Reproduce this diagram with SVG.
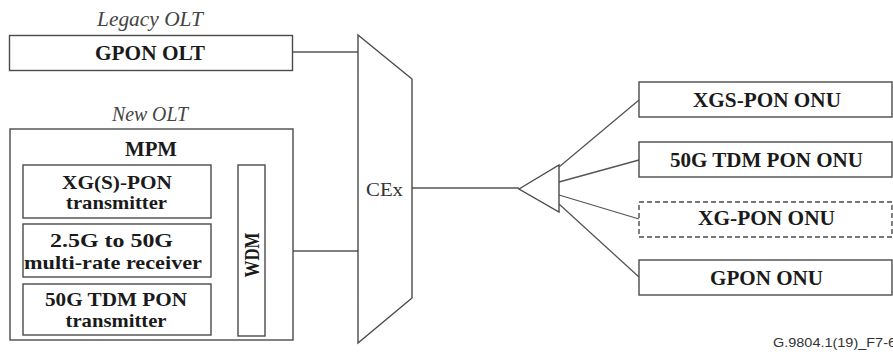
<svg xmlns="http://www.w3.org/2000/svg" width="893" height="352" viewBox="0 0 893 352">
  <style>
    .box { fill: #fff; stroke: #4a4a4a; stroke-width: 1.4; }
    .dash { stroke-dasharray: 5 3; }
    .wire { fill: none; stroke: #555; stroke-width: 1.3; }
    .lbl { font-family: "Liberation Serif", "Times New Roman", serif; font-weight: bold; font-size: 20.5px; fill: #1a1a1a; text-anchor: middle; }
    .sm { font-size: 19.5px; }
    .cap { font-family: "Liberation Serif", "Times New Roman", serif; font-style: italic; font-size: 20px; fill: #444; text-anchor: middle; }
    .reg { font-family: "Liberation Serif", "Times New Roman", serif; font-size: 19px; fill: #333; text-anchor: middle; }
    .ref { font-family: "Liberation Sans", Arial, sans-serif; font-size: 12px; fill: #333; }
  </style>
  <rect width="893" height="352" fill="#fff"/>

  <!-- connectors -->
  <g id="connectors" class="wire">
    <line x1="292" y1="52" x2="358" y2="52"/>
    <line x1="211" y1="199" x2="238" y2="199"/>
    <line x1="211" y1="251" x2="238" y2="251"/>
    <line x1="211" y1="311" x2="238" y2="311"/>
    <line x1="265" y1="251" x2="358" y2="251"/>
    <line x1="412" y1="188" x2="519" y2="188"/>
    <line x1="559" y1="167" x2="639" y2="100"/>
    <line x1="559" y1="182" x2="639" y2="160"/>
    <line x1="559" y1="195" x2="639" y2="219"/>
    <line x1="559" y1="204" x2="639" y2="277"/>
  </g>

  <!-- legacy OLT -->
  <g id="legacy-olt">
    <text class="cap" x="150" y="26" textLength="106" lengthAdjust="spacingAndGlyphs">Legacy OLT</text>
    <rect class="box" x="9.5" y="35.5" width="283" height="35"/>
    <text class="lbl" x="150" y="59.5" textLength="110" lengthAdjust="spacingAndGlyphs">GPON OLT</text>
  </g>

  <!-- new OLT with multi-PON module -->
  <g id="new-olt">
    <text class="cap" x="150" y="121" textLength="76" lengthAdjust="spacingAndGlyphs">New OLT</text>
    <rect class="box" x="10" y="129" width="283" height="211"/>
    <text class="lbl" x="151" y="155.5" textLength="52" lengthAdjust="spacingAndGlyphs">MPM</text>
  </g>

  <g id="xgs-tx">
    <rect class="box" x="23" y="165" width="188" height="53"/>
    <text class="lbl sm" x="117" y="188.5" textLength="110" lengthAdjust="spacingAndGlyphs">XG(S)-PON</text>
    <text class="lbl sm" x="116.5" y="209" textLength="101" lengthAdjust="spacingAndGlyphs">transmitter</text>
  </g>

  <g id="multi-rate-rx">
    <rect class="box" x="23" y="224" width="188" height="53"/>
    <text class="lbl sm" x="111.5" y="247" textLength="123" lengthAdjust="spacingAndGlyphs">2.5G to 50G</text>
    <text class="lbl sm" x="113" y="268.5" textLength="178" lengthAdjust="spacingAndGlyphs">multi-rate receiver</text>
  </g>

  <g id="tdm50-tx">
    <rect class="box" x="23" y="284" width="188" height="51"/>
    <text class="lbl sm" x="116" y="306" textLength="142" lengthAdjust="spacingAndGlyphs">50G TDM PON</text>
    <text class="lbl sm" x="116" y="327" textLength="101" lengthAdjust="spacingAndGlyphs">transmitter</text>
  </g>

  <g id="wdm">
    <rect class="box" x="238" y="165" width="27" height="171"/>
    <text class="lbl" transform="translate(252 255) rotate(-90)" x="0" y="7" textLength="45" lengthAdjust="spacingAndGlyphs">WDM</text>
  </g>

  <!-- coexistence element -->
  <g id="cex">
    <polygon class="box" points="358,35 412,79 412,298 358,343"/>
    <text class="reg" x="384.5" y="196" textLength="37" lengthAdjust="spacingAndGlyphs">CEx</text>
  </g>

  <!-- optical splitter -->
  <g id="splitter">
    <polygon class="box" points="519,189 559,165 559,212"/>
  </g>

  <!-- ONUs -->
  <g id="onu-xgs">
    <rect class="box" x="639" y="82" width="253" height="35"/>
    <text class="lbl" x="767" y="107" textLength="148" lengthAdjust="spacingAndGlyphs">XGS-PON ONU</text>
  </g>
  <g id="onu-50g">
    <rect class="box" x="639" y="142" width="253" height="35"/>
    <text class="lbl" x="766.5" y="166.5" textLength="193" lengthAdjust="spacingAndGlyphs">50G TDM PON ONU</text>
  </g>
  <g id="onu-xg">
    <rect class="box dash" x="639" y="202" width="253" height="35"/>
    <text class="lbl" x="766.5" y="224.5" textLength="137" lengthAdjust="spacingAndGlyphs">XG-PON ONU</text>
  </g>
  <g id="onu-gpon">
    <rect class="box" x="639" y="260" width="253" height="35"/>
    <text class="lbl" x="766.5" y="284.5" textLength="113" lengthAdjust="spacingAndGlyphs">GPON ONU</text>
  </g>

  <text class="ref" x="773" y="347" textLength="123" lengthAdjust="spacingAndGlyphs">G.9804.1(19)_F7-6</text>
</svg>
